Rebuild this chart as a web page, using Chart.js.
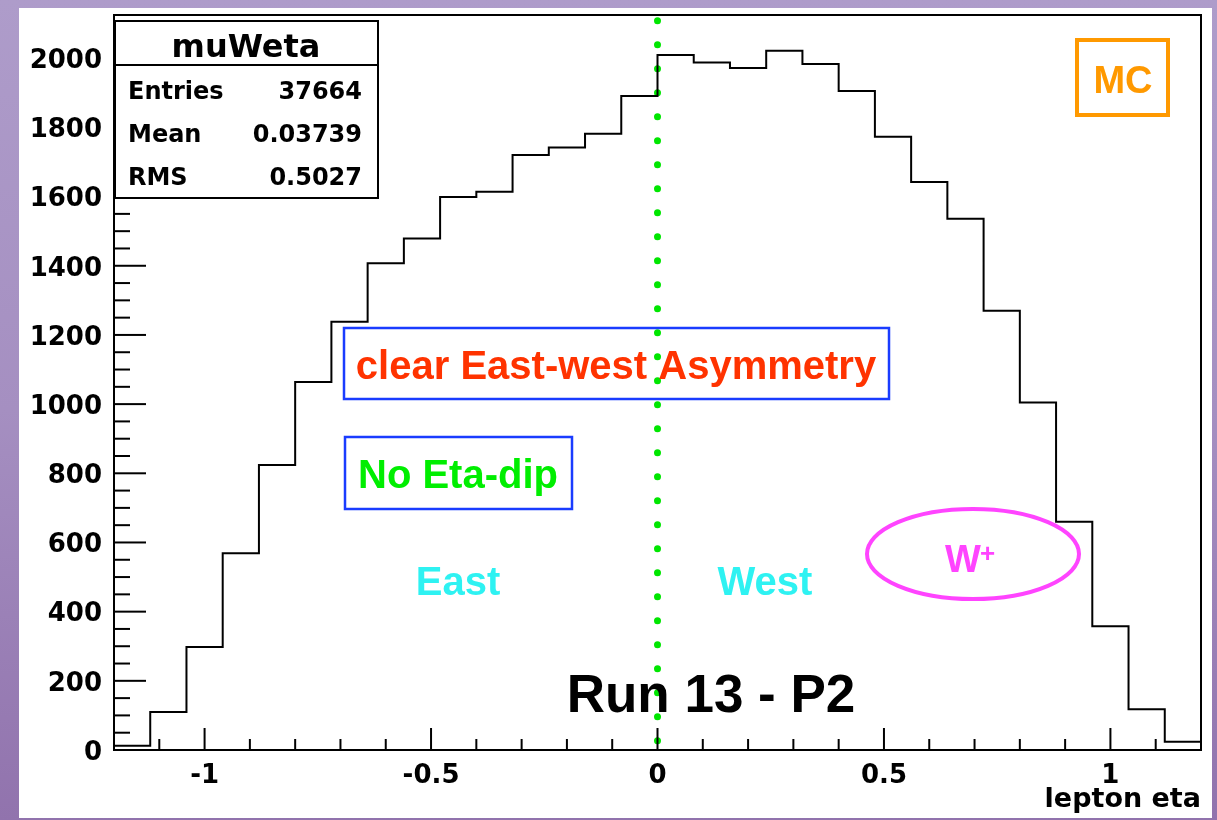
<!DOCTYPE html>
<html>
<head>
<meta charset="utf-8">
<script src="https://cdn.jsdelivr.net/npm/chart.js@4.4.1/dist/chart.umd.min.js"></script>
<style>
  html, body { margin: 0; padding: 0; }
  body {
    width: 1217px; height: 820px; overflow: hidden; position: relative;
    background: linear-gradient(180deg, #ae9cca 0%, #a58fc1 50%, #9173ad 100%);
  }
  #panel { position: absolute; left: 19px; top: 8px; width: 1193px; height: 810px; background: #ffffff; }
  #wrap { position: absolute; left: 0; top: 0; width: 1217px; height: 820px; }
</style>
</head>
<body>
<div id="panel"></div>
<div id="wrap"><canvas id="c" width="1217" height="820"></canvas></div>
<script>
// muWeta: lepton eta distribution, 30 bins from -1.2 to 1.2
const binLowEdges = [-1.2, -1.12, -1.04, -0.96, -0.88, -0.8, -0.72, -0.64, -0.56, -0.48,
                     -0.4, -0.32, -0.24, -0.16, -0.08, 0, 0.08, 0.16, 0.24, 0.32,
                     0.4, 0.48, 0.56, 0.64, 0.72, 0.8, 0.88, 0.96, 1.04, 1.12];
const etaUpperEdge = 1.2;
const entriesPerBin = [12, 110, 298, 569, 824, 1064, 1238, 1407, 1479, 1599,
                       1614, 1720, 1742, 1782, 1891, 2009, 1988, 1972, 2022, 1983,
                       1905, 1773, 1642, 1536, 1270, 1005, 660, 358, 118, 24];
const xTickValues = [-1, -0.5, 0, 0.5, 1];
const yTickValues = [0, 200, 400, 600, 800, 1000, 1200, 1400, 1600, 1800, 2000];
const statsTitle = 'muWeta';
const statsRows = [['Entries', '37664'], ['Mean', '0.03739'], ['RMS', '0.5027']];
const eastWestBoundary = 0;

const AXIS_FONT = "'DejaVu Sans', sans-serif";
const TEXT_FONT = "'Liberation Sans', Arial, Helvetica, sans-serif";

const histPoints = binLowEdges.map((x, i) => ({ x: x, y: entriesPerBin[i] }));
histPoints.push({ x: etaUpperEdge, y: entriesPerBin[entriesPerBin.length - 1] });

function line(ctx, x1, y1, x2, y2) {
  ctx.beginPath(); ctx.moveTo(x1, y1); ctx.lineTo(x2, y2); ctx.stroke();
}

// inward tick marks on the bottom and left axes, plus the frame
const frameAndTicks = {
  id: 'frameAndTicks',
  afterDatasetsDraw(chart) {
    const { ctx, chartArea: a, scales: { x: xs, y: ys } } = chart;
    ctx.save();
    ctx.strokeStyle = '#000'; ctx.lineWidth = 2; ctx.lineCap = 'butt';
    for (let k = -11; k <= 11; k++) {
      const px = xs.getPixelForValue(k / 10);
      const len = (k % 5 === 0) ? 22 : 11;
      line(ctx, px, a.bottom, px, a.bottom - len);
    }
    for (let v = 50; v <= ys.max; v += 50) {
      const py = ys.getPixelForValue(v);
      const len = (v % 200 === 0) ? 32 : 16;
      line(ctx, a.left, py, a.left + len, py);
    }
    ctx.strokeRect(a.left, a.top, a.right - a.left, a.bottom - a.top);
    ctx.restore();
  }
};

function boxedText(ctx, text, cx, baseline, rect, color, boxColor, size) {
  ctx.strokeStyle = boxColor; ctx.lineWidth = 2.5;
  ctx.strokeRect(rect[0], rect[1], rect[2] - rect[0], rect[3] - rect[1]);
  ctx.fillStyle = color;
  ctx.font = 'bold ' + size + 'px ' + TEXT_FONT;
  ctx.textAlign = 'center'; ctx.textBaseline = 'alphabetic';
  ctx.fillText(text, cx, baseline);
}

// stats box and text notes drawn on top of the plot
const notes = {
  id: 'notes',
  afterDraw(chart) {
    const ctx = chart.ctx;
    ctx.save();
    // stats box
    ctx.fillStyle = '#fff';
    ctx.fillRect(115, 21, 263, 177);
    ctx.strokeStyle = '#000'; ctx.lineWidth = 2;
    ctx.strokeRect(115, 21, 263, 177);
    line(ctx, 115, 65, 378, 65);
    ctx.fillStyle = '#000';
    ctx.font = 'bold 32px ' + AXIS_FONT;
    ctx.textAlign = 'center'; ctx.textBaseline = 'alphabetic';
    ctx.fillText(statsTitle, 246, 57);
    ctx.font = 'bold 24px ' + AXIS_FONT;
    const rowBase = [99, 142, 185];
    statsRows.forEach((r, i) => {
      ctx.textAlign = 'left'; ctx.fillText(r[0], 128, rowBase[i]);
      ctx.textAlign = 'right'; ctx.fillText(r[1], 362, rowBase[i]);
    });

    // MC label
    ctx.strokeStyle = '#ff9900'; ctx.lineWidth = 4;
    ctx.strokeRect(1077, 40, 91, 75);
    ctx.fillStyle = '#ff9900';
    ctx.font = 'bold 38px ' + TEXT_FONT;
    ctx.textAlign = 'center';
    ctx.fillText('MC', 1123, 93);

    boxedText(ctx, 'clear East-west Asymmetry', 616, 379, [344, 328, 889, 399], '#ff3300', '#1a3cff', 40);
    boxedText(ctx, 'No Eta-dip', 458, 488, [345, 437, 572, 509], '#00ee00', '#1a3cff', 40);

    ctx.font = 'bold 40px ' + TEXT_FONT;
    ctx.fillStyle = '#2ef2f2';
    ctx.textAlign = 'center';
    ctx.fillText('East', 458, 595);
    ctx.fillText('West', 765, 595);

    ctx.fillStyle = '#000';
    ctx.font = 'bold 53px ' + TEXT_FONT;
    ctx.fillText('Run 13 - P2', 711, 712);

    // W+ ellipse
    ctx.strokeStyle = '#ff44ff'; ctx.lineWidth = 4;
    ctx.beginPath(); ctx.ellipse(973, 554, 106, 45, 0, 0, Math.PI * 2); ctx.stroke();
    ctx.fillStyle = '#ff44ff';
    ctx.textAlign = 'left';
    ctx.font = 'bold 38px ' + TEXT_FONT;
    ctx.fillText('W', 945, 572);
    ctx.font = 'bold 26px ' + TEXT_FONT;
    ctx.fillText('+', 980, 562);
    ctx.restore();
  }
};

new Chart(document.getElementById('c'), {
  type: 'line',
  data: {
    datasets: [
      {
        label: 'muWeta',
        data: histPoints,
        stepped: true,
        borderColor: '#000',
        borderWidth: 2,
        pointRadius: 0,
        fill: false
      },
      {
        label: 'east-west',
        data: [{ x: eastWestBoundary, y: 0 }, { x: eastWestBoundary, y: 2125 }],
        borderColor: '#00e600',
        borderWidth: 7,
        borderDash: [0, 24],
        borderDashOffset: 14.7,
        borderCapStyle: 'round',
        pointRadius: 0,
        fill: false
      }
    ]
  },
  options: {
    responsive: false,
    animation: false,
    events: [],
    layout: { padding: { top: 15, right: 16, left: 0, bottom: 0 } },
    plugins: { legend: { display: false }, tooltip: { enabled: false } },
    scales: {
      x: {
        type: 'linear', min: -1.2, max: 1.2,
        afterBuildTicks: s => { s.ticks = xTickValues.map(v => ({ value: v })); },
        afterFit: s => { s.height = 70; s.paddingLeft = 0; s.paddingRight = 0; },
        grid: { display: false, drawTicks: false },
        border: { display: false },
        ticks: {
          color: '#000', padding: 11, maxRotation: 0, autoSkip: false,
          font: { family: AXIS_FONT, size: 26, weight: 'bold' },
          callback: v => String(v)
        },
        title: {
          display: true, text: 'lepton eta', align: 'end', color: '#000',
          font: { family: AXIS_FONT, size: 27, weight: 'bold' },
          padding: { top: 0, bottom: 4 }
        }
      },
      y: {
        type: 'linear', min: 0, max: 2125,
        afterBuildTicks: s => { s.ticks = yTickValues.map(v => ({ value: v })); },
        afterFit: s => { s.width = 114; s.paddingTop = 0; s.paddingBottom = 0; },
        grid: { display: false, drawTicks: false },
        border: { display: false },
        ticks: {
          color: '#000', padding: 12, autoSkip: false, labelOffset: 3,
          font: { family: AXIS_FONT, size: 26, weight: 'bold' },
          callback: v => String(v)
        }
      }
    }
  },
  plugins: [frameAndTicks, notes]
});
</script>
</body>
</html>
